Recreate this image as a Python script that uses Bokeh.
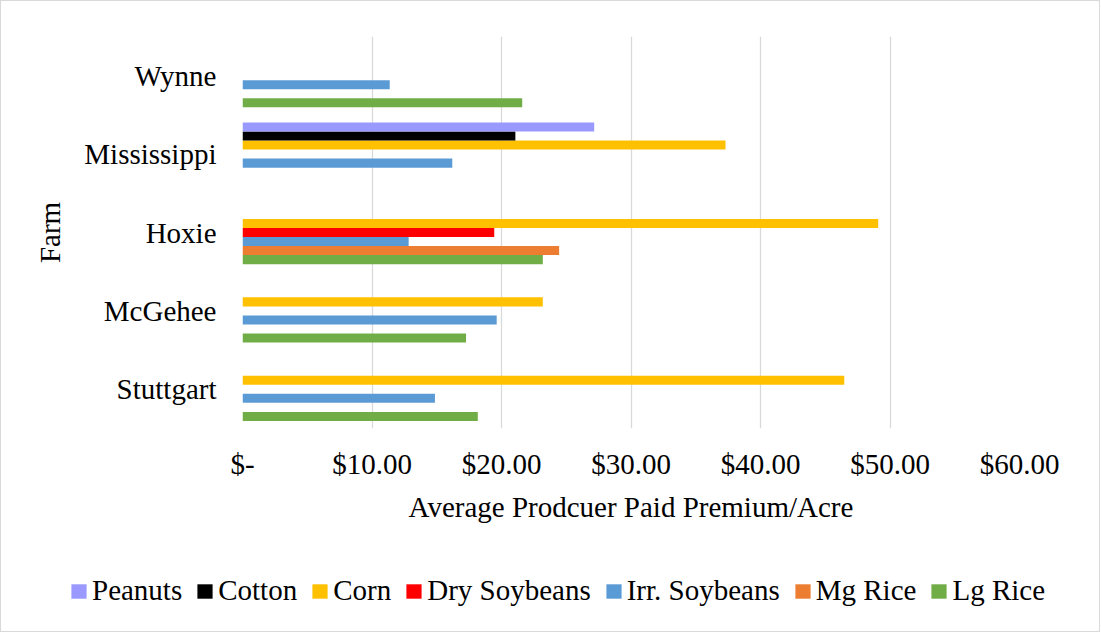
from bokeh.plotting import figure
from bokeh.models import (ColumnDataSource, FactorRange, Range1d, FixedTicker,
                          Legend, LegendItem)
from bokeh.layouts import column
from bokeh.transform import dodge
from bokeh.embed import file_html
from bokeh.resources import INLINE

# ---- data ----
farms = ["Stuttgart", "McGehee", "Hoxie", "Mississippi", "Wynne"]
lg_rice = [18.17, 17.26, 23.19, 0, 21.6]
mg_rice = [0, 0, 24.45, 0, 0]
irr_soybeans = [14.86, 19.63, 12.83, 16.2, 11.37]
dry_soybeans = [0, 0, 19.44, 0, 0]
corn = [46.47, 23.19, 49.09, 37.3, 0]
cotton = [0, 0, 0, 21.07, 0]
peanuts = [0, 0, 0, 27.16, 0]

series_names = ["Lg Rice", "Mg Rice", "Irr. Soybeans", "Dry Soybeans", "Corn", "Cotton", "Peanuts"]
series_values = [lg_rice, mg_rice, irr_soybeans, dry_soybeans, corn, cotton, peanuts]
series_colors = ["#70AD47", "#ED7D31", "#5B9BD5", "#FF0000", "#FFC000", "#000000", "#9999FF"]
legend_order = ["Peanuts", "Cotton", "Corn", "Dry Soybeans", "Irr. Soybeans", "Mg Rice", "Lg Rice"]

x_ticks = [0, 10, 20, 30, 40, 50, 60]
x_tick_labels = ["$-", "$10.00", "$20.00", "$30.00", "$40.00", "$50.00", "$60.00"]

x_title = "Average Prodcuer Paid Premium/Acre"
y_title = "Farm"

FONT = "Liberation Serif"
FS = "29px"
W = 1098
H_MAIN = 560
H_LEG = 70

data = {"farm": farms}
for n, v in zip(series_names, series_values):
    data[n] = v
source = ColumnDataSource(data)

p = figure(width=W, height=H_MAIN, output_backend="svg", toolbar_location=None,
           y_range=FactorRange(*farms, range_padding=0, factor_padding=0),
           x_range=Range1d(0, 60),
           min_border_left=241, min_border_right=W - 241 - 777,
           min_border_top=35, min_border_bottom=H_MAIN - 35 - 392)
p.outline_line_color = None
p.background_fill_color = "white"
p.border_fill_color = "white"

slot = 9.0 / 78.0
for i, (n, c) in enumerate(zip(series_names, series_colors)):
    off = (i - 3) * slot
    p.hbar(y=dodge("farm", off, range=p.y_range), left=0, right=n,
           height=slot, source=source, fill_color=c, line_color=None)

# axes
p.xaxis.ticker = FixedTicker(ticks=x_ticks)
p.xaxis.major_label_overrides = {t: l for t, l in zip(x_ticks, x_tick_labels)}
for ax in (p.xaxis[0], p.yaxis[0]):
    ax.axis_line_color = None
    ax.major_tick_line_color = None
    ax.minor_tick_line_color = None
    ax.major_label_text_font = FONT
    ax.major_label_text_font_size = FS
    ax.major_label_text_color = "black"
    ax.axis_label_text_font = FONT
    ax.axis_label_text_font_size = FS
    ax.axis_label_text_font_style = "normal"
    ax.axis_label_text_color = "black"
p.xaxis.axis_label = x_title
p.yaxis.axis_label = y_title
p.xaxis.major_label_standoff = 13
p.xaxis.axis_label_standoff = 8
p.yaxis.major_label_standoff = 20
p.yaxis.axis_label_standoff = 15

p.xgrid.grid_line_color = "#D9D9D9"
p.xgrid.grid_line_width = 1.3
p.ygrid.grid_line_color = None

# legend strip below the chart (its own plot, no axes)
lf = figure(width=W, height=H_LEG, output_backend="svg", toolbar_location=None,
            x_range=Range1d(0, 1), y_range=Range1d(0, 1),
            x_axis_location=None, y_axis_location=None,
            min_border_left=0, min_border_right=0,
            min_border_top=0, min_border_bottom=0)
lf.grid.grid_line_color = None
lf.outline_line_color = None
lf.border_fill_color = "white"

for fig in (p, lf):
    if "frame_align" in fig.properties():
        fig.frame_align = False

offscreen = ColumnDataSource({"y": [-5.0], "r": [-5.0]})
leg_r = {}
for n, c in zip(series_names, series_colors):
    leg_r[n] = lf.hbar(y="y", right="r", left=-6, height=0.1, source=offscreen,
                       fill_color=c, line_color=None)
items = [LegendItem(label=n, renderers=[leg_r[n]]) for n in legend_order]
legend = Legend(items=items, orientation="horizontal", location=(68, 24),
                label_text_font=FONT, label_text_font_size=FS,
                label_text_color="black",
                glyph_width=19, glyph_height=18, label_standoff=4, spacing=13,
                padding=0, margin=0, border_line_color=None,
                background_fill_alpha=0)
lf.add_layout(legend, "center")

layout = column(p, lf, spacing=0, styles={"border": "1px solid #D9D9D9"})
open("out.html", "w").write(file_html(layout, INLINE))
